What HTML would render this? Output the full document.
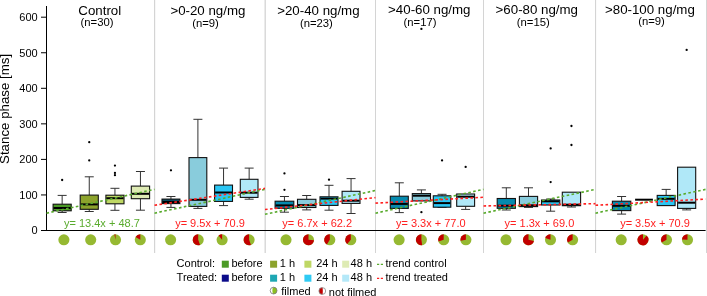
<!DOCTYPE html>
<html><head><meta charset="utf-8"><style>
html,body{margin:0;padding:0;background:#fff;}
svg{display:block;will-change:transform;}
text{font-family:"Liberation Sans", sans-serif;}
</style></head><body>
<svg width="707" height="296" viewBox="0 0 707 296" font-family='"Liberation Sans", sans-serif'>
<rect x="0" y="0" width="707" height="296" fill="#fff"/>
<line x1="154.6" y1="0" x2="154.6" y2="253" stroke="#d4d4d4" stroke-width="1.2"/>
<line x1="265.2" y1="0" x2="265.2" y2="253" stroke="#d4d4d4" stroke-width="1.3"/>
<line x1="375.5" y1="0" x2="375.5" y2="253" stroke="#d4d4d4" stroke-width="1.0"/>
<line x1="483.5" y1="0" x2="483.5" y2="253" stroke="#d4d4d4" stroke-width="1.0"/>
<line x1="595.55" y1="0" x2="595.55" y2="253" stroke="#d4d4d4" stroke-width="1.1"/>
<line x1="706.5" y1="0" x2="706.5" y2="253" stroke="#d4d4d4" stroke-width="1.0"/>
<line x1="46.5" y1="6" x2="46.5" y2="231" stroke="#000" stroke-width="1"/>
<line x1="41" y1="230.5" x2="705.6" y2="230.5" stroke="#000" stroke-width="1.2"/>
<line x1="41" y1="230.5" x2="46.5" y2="230.5" stroke="#000" stroke-width="1"/>
<text x="37.7" y="234.3" font-size="11" text-anchor="end">0</text>
<line x1="41" y1="194.95" x2="46.5" y2="194.95" stroke="#000" stroke-width="1"/>
<text x="37.7" y="198.75" font-size="11" text-anchor="end">100</text>
<line x1="41" y1="159.4" x2="46.5" y2="159.4" stroke="#000" stroke-width="1"/>
<text x="37.7" y="163.2" font-size="11" text-anchor="end">200</text>
<line x1="41" y1="123.85" x2="46.5" y2="123.85" stroke="#000" stroke-width="1"/>
<text x="37.7" y="127.65" font-size="11" text-anchor="end">300</text>
<line x1="41" y1="88.3" x2="46.5" y2="88.3" stroke="#000" stroke-width="1"/>
<text x="37.7" y="92.1" font-size="11" text-anchor="end">400</text>
<line x1="41" y1="52.75" x2="46.5" y2="52.75" stroke="#000" stroke-width="1"/>
<text x="37.7" y="56.55" font-size="11" text-anchor="end">500</text>
<line x1="41" y1="17.2" x2="46.5" y2="17.2" stroke="#000" stroke-width="1"/>
<text x="37.7" y="21" font-size="11" text-anchor="end">600</text>
<text transform="translate(9.2,108.9) rotate(-90)" font-size="13.3" text-anchor="middle">Stance phase [ms]</text>
<line x1="62.15" y1="195.4" x2="62.15" y2="204.2" stroke="#333" stroke-width="1"/>
<line x1="57.65" y1="195.4" x2="66.65" y2="195.4" stroke="#333" stroke-width="1"/>
<line x1="62.15" y1="210.8" x2="62.15" y2="212.5" stroke="#333" stroke-width="1"/>
<line x1="57.65" y1="212.5" x2="66.65" y2="212.5" stroke="#333" stroke-width="1"/>
<rect x="53.1" y="204.2" width="18.1" height="6.6" fill="#4b9a26" stroke="#111" stroke-width="1.1"/>
<line x1="53.6" y1="208" x2="70.7" y2="208" stroke="#000" stroke-width="2"/>
<circle cx="62.15" cy="180" r="1.15" fill="#000"/>
<line x1="89.25" y1="176.8" x2="89.25" y2="195.1" stroke="#333" stroke-width="1"/>
<line x1="84.75" y1="176.8" x2="93.75" y2="176.8" stroke="#333" stroke-width="1"/>
<line x1="89.25" y1="209.3" x2="89.25" y2="211.5" stroke="#333" stroke-width="1"/>
<line x1="84.75" y1="211.5" x2="93.75" y2="211.5" stroke="#333" stroke-width="1"/>
<rect x="80.2" y="195.1" width="18.1" height="14.2" fill="#8ca32c" stroke="#111" stroke-width="1.1"/>
<line x1="80.7" y1="204.4" x2="97.8" y2="204.4" stroke="#000" stroke-width="2"/>
<circle cx="89.25" cy="142.2" r="1.15" fill="#000"/>
<circle cx="89.25" cy="160.4" r="1.15" fill="#000"/>
<line x1="114.95" y1="188.3" x2="114.95" y2="195.2" stroke="#333" stroke-width="1"/>
<line x1="110.45" y1="188.3" x2="119.45" y2="188.3" stroke="#333" stroke-width="1"/>
<line x1="114.95" y1="203.8" x2="114.95" y2="210.3" stroke="#333" stroke-width="1"/>
<line x1="110.45" y1="210.3" x2="119.45" y2="210.3" stroke="#333" stroke-width="1"/>
<rect x="105.9" y="195.2" width="18.1" height="8.6" fill="#bed764" stroke="#111" stroke-width="1.1"/>
<line x1="106.4" y1="198.2" x2="123.5" y2="198.2" stroke="#000" stroke-width="2"/>
<circle cx="114.95" cy="165.6" r="1.15" fill="#000"/>
<circle cx="114.95" cy="172.9" r="1.15" fill="#000"/>
<circle cx="114.95" cy="175.2" r="1.15" fill="#000"/>
<line x1="140.45" y1="171.5" x2="140.45" y2="186.1" stroke="#333" stroke-width="1"/>
<line x1="135.95" y1="171.5" x2="144.95" y2="171.5" stroke="#333" stroke-width="1"/>
<line x1="140.45" y1="198.7" x2="140.45" y2="210.2" stroke="#333" stroke-width="1"/>
<line x1="135.95" y1="210.2" x2="144.95" y2="210.2" stroke="#333" stroke-width="1"/>
<rect x="131.3" y="186.1" width="18.3" height="12.6" fill="#deebb4" stroke="#111" stroke-width="1.1"/>
<line x1="131.8" y1="193.8" x2="149.1" y2="193.8" stroke="#000" stroke-width="2"/>
<line x1="46.5" y1="213.19" x2="154.5" y2="189.37" stroke="#5aab2e" stroke-width="1.6" stroke-dasharray="2.6 2.4"/>
<text x="99.8" y="15" font-size="13.3" text-anchor="middle">Control</text>
<text x="97" y="26" font-size="11.3" text-anchor="middle">(n=30)</text>
<text x="101.9" y="227.2" font-size="11" text-anchor="middle" fill="#5aab2e">y= 13.4x + 48.7</text>
<circle cx="63.9" cy="239.8" r="5.55" fill="#96b932"/>
<circle cx="90.7" cy="239.8" r="5.55" fill="#96b932"/>
<circle cx="115.5" cy="239.8" r="5.55" fill="#96b932"/>
<path d="M115.5,239.8 L114.35,234.37 A5.55,5.55 0 0 1 115.5,234.25 Z" fill="#c20000"/>
<circle cx="140.3" cy="239.8" r="5.55" fill="#96b932"/>
<path d="M140.3,239.8 L135.49,237.03 A5.55,5.55 0 0 1 140.3,234.25 Z" fill="#c20000"/>
<line x1="170.95" y1="196.5" x2="170.95" y2="199.1" stroke="#333" stroke-width="1"/>
<line x1="166.45" y1="196.5" x2="175.45" y2="196.5" stroke="#333" stroke-width="1"/>
<line x1="170.95" y1="203.6" x2="170.95" y2="207.4" stroke="#333" stroke-width="1"/>
<line x1="166.45" y1="207.4" x2="175.45" y2="207.4" stroke="#333" stroke-width="1"/>
<rect x="162" y="199.1" width="17.9" height="4.5" fill="#0a4a60" stroke="#111" stroke-width="1.1"/>
<line x1="162.5" y1="202" x2="179.4" y2="202" stroke="#000" stroke-width="2"/>
<circle cx="170.95" cy="170.3" r="1.15" fill="#000"/>
<line x1="197.9" y1="119.3" x2="197.9" y2="157.6" stroke="#333" stroke-width="1"/>
<line x1="193.4" y1="119.3" x2="202.4" y2="119.3" stroke="#333" stroke-width="1"/>
<line x1="197.9" y1="206.4" x2="197.9" y2="208.4" stroke="#333" stroke-width="1"/>
<line x1="193.4" y1="208.4" x2="202.4" y2="208.4" stroke="#333" stroke-width="1"/>
<rect x="189" y="157.6" width="17.8" height="48.8" fill="#89ccdc" stroke="#111" stroke-width="1.1"/>
<line x1="189.5" y1="199.8" x2="206.3" y2="199.8" stroke="#000" stroke-width="2"/>
<line x1="223.55" y1="168.1" x2="223.55" y2="185.1" stroke="#333" stroke-width="1"/>
<line x1="219.05" y1="168.1" x2="228.05" y2="168.1" stroke="#333" stroke-width="1"/>
<line x1="223.55" y1="201.4" x2="223.55" y2="205.6" stroke="#333" stroke-width="1"/>
<line x1="219.05" y1="205.6" x2="228.05" y2="205.6" stroke="#333" stroke-width="1"/>
<rect x="214.6" y="185.1" width="17.9" height="16.3" fill="#2ac6f4" stroke="#111" stroke-width="1.1"/>
<line x1="215.1" y1="192.5" x2="232" y2="192.5" stroke="#000" stroke-width="2"/>
<line x1="249.15" y1="168.1" x2="249.15" y2="179.3" stroke="#333" stroke-width="1"/>
<line x1="244.65" y1="168.1" x2="253.65" y2="168.1" stroke="#333" stroke-width="1"/>
<line x1="249.15" y1="197.4" x2="249.15" y2="199.2" stroke="#333" stroke-width="1"/>
<line x1="244.65" y1="199.2" x2="253.65" y2="199.2" stroke="#333" stroke-width="1"/>
<rect x="240.3" y="179.3" width="17.7" height="18.1" fill="#b0e8f8" stroke="#111" stroke-width="1.1"/>
<line x1="240.8" y1="192.7" x2="257.5" y2="192.7" stroke="#000" stroke-width="2"/>
<line x1="154.5" y1="213.19" x2="265" y2="189.37" stroke="#5aab2e" stroke-width="1.6" stroke-dasharray="2.6 2.4"/>
<line x1="154.5" y1="205.3" x2="265" y2="188.41" stroke="#ff2020" stroke-width="1.6" stroke-dasharray="2.6 2.4"/>
<text x="207.9" y="15" font-size="13.3" text-anchor="middle">&gt;0-20 ng/mg</text>
<text x="205.5" y="27" font-size="11.3" text-anchor="middle">(n=9)</text>
<text x="210" y="227.2" font-size="11" text-anchor="middle" fill="#ff2020">y= 9.5x + 70.9</text>
<circle cx="170.6" cy="239.8" r="5.55" fill="#96b932"/>
<circle cx="198.2" cy="239.8" r="5.55" fill="#96b932"/>
<path d="M198.2,239.8 L200.1,245.02 A5.55,5.55 0 1 1 198.2,234.25 Z" fill="#c20000"/>
<circle cx="222.1" cy="239.8" r="5.55" fill="#96b932"/>
<path d="M222.1,239.8 L218.53,235.55 A5.55,5.55 0 0 1 222.1,234.25 Z" fill="#c20000"/>
<circle cx="249.1" cy="239.8" r="5.55" fill="#96b932"/>
<path d="M249.1,239.8 L251,245.02 A5.55,5.55 0 1 1 249.1,234.25 Z" fill="#c20000"/>
<line x1="284.45" y1="196.5" x2="284.45" y2="201.2" stroke="#333" stroke-width="1"/>
<line x1="279.95" y1="196.5" x2="288.95" y2="196.5" stroke="#333" stroke-width="1"/>
<line x1="284.45" y1="208.3" x2="284.45" y2="212.2" stroke="#333" stroke-width="1"/>
<line x1="279.95" y1="212.2" x2="288.95" y2="212.2" stroke="#333" stroke-width="1"/>
<rect x="275.1" y="201.2" width="18.7" height="7.1" fill="#068aae" stroke="#111" stroke-width="1.1"/>
<line x1="275.6" y1="205.4" x2="293.3" y2="205.4" stroke="#000" stroke-width="2"/>
<circle cx="284.45" cy="173.4" r="1.15" fill="#000"/>
<circle cx="284.45" cy="189.8" r="1.15" fill="#000"/>
<line x1="306.7" y1="195.5" x2="306.7" y2="199.3" stroke="#333" stroke-width="1"/>
<line x1="302.2" y1="195.5" x2="311.2" y2="195.5" stroke="#333" stroke-width="1"/>
<line x1="306.7" y1="207.5" x2="306.7" y2="209.9" stroke="#333" stroke-width="1"/>
<line x1="302.2" y1="209.9" x2="311.2" y2="209.9" stroke="#333" stroke-width="1"/>
<rect x="297.5" y="199.3" width="18.4" height="8.2" fill="#89ccdc" stroke="#111" stroke-width="1.1"/>
<line x1="298" y1="205.1" x2="315.4" y2="205.1" stroke="#000" stroke-width="2"/>
<line x1="329" y1="185.3" x2="329" y2="196.8" stroke="#333" stroke-width="1"/>
<line x1="324.5" y1="185.3" x2="333.5" y2="185.3" stroke="#333" stroke-width="1"/>
<line x1="329" y1="205.4" x2="329" y2="210.2" stroke="#333" stroke-width="1"/>
<line x1="324.5" y1="210.2" x2="333.5" y2="210.2" stroke="#333" stroke-width="1"/>
<rect x="320" y="196.8" width="18" height="8.6" fill="#2ac6f4" stroke="#111" stroke-width="1.1"/>
<line x1="320.5" y1="198.6" x2="337.5" y2="198.6" stroke="#000" stroke-width="2"/>
<circle cx="329" cy="179.7" r="1.15" fill="#000"/>
<line x1="351.05" y1="178.6" x2="351.05" y2="191.3" stroke="#333" stroke-width="1"/>
<line x1="346.55" y1="178.6" x2="355.55" y2="178.6" stroke="#333" stroke-width="1"/>
<line x1="351.05" y1="203.4" x2="351.05" y2="213.5" stroke="#333" stroke-width="1"/>
<line x1="346.55" y1="213.5" x2="355.55" y2="213.5" stroke="#333" stroke-width="1"/>
<rect x="342.1" y="191.3" width="17.9" height="12.1" fill="#b0e8f8" stroke="#111" stroke-width="1.1"/>
<line x1="342.6" y1="200.7" x2="359.5" y2="200.7" stroke="#000" stroke-width="2"/>
<line x1="265" y1="214.29" x2="375.5" y2="190.47" stroke="#5aab2e" stroke-width="1.6" stroke-dasharray="2.6 2.4"/>
<line x1="265" y1="209.49" x2="375.5" y2="197.58" stroke="#ff2020" stroke-width="1.6" stroke-dasharray="2.6 2.4"/>
<text x="318.4" y="15" font-size="13.3" text-anchor="middle">&gt;20-40 ng/mg</text>
<text x="316.4" y="27" font-size="11.3" text-anchor="middle">(n=23)</text>
<text x="317.2" y="227.2" font-size="11" text-anchor="middle" fill="#ff2020">y= 6.7x + 62.2</text>
<circle cx="286" cy="239.8" r="5.55" fill="#96b932"/>
<circle cx="308.5" cy="239.8" r="5.55" fill="#96b932"/>
<path d="M308.5,239.8 L314.03,240.28 A5.55,5.55 0 1 1 308.5,234.25 Z" fill="#c20000"/>
<circle cx="329.8" cy="239.8" r="5.55" fill="#96b932"/>
<path d="M329.8,239.8 L326.86,244.51 A5.55,5.55 0 0 1 329.8,234.25 Z" fill="#c20000"/>
<circle cx="350.8" cy="239.8" r="5.55" fill="#96b932"/>
<path d="M350.8,239.8 L347.23,244.05 A5.55,5.55 0 0 1 350.8,234.25 Z" fill="#c20000"/>
<line x1="399.3" y1="182.8" x2="399.3" y2="196.2" stroke="#333" stroke-width="1"/>
<line x1="394.8" y1="182.8" x2="403.8" y2="182.8" stroke="#333" stroke-width="1"/>
<line x1="399.3" y1="208.4" x2="399.3" y2="212.6" stroke="#333" stroke-width="1"/>
<line x1="394.8" y1="212.6" x2="403.8" y2="212.6" stroke="#333" stroke-width="1"/>
<rect x="390.3" y="196.2" width="18" height="12.2" fill="#068aae" stroke="#111" stroke-width="1.1"/>
<line x1="390.8" y1="203.9" x2="407.8" y2="203.9" stroke="#000" stroke-width="2"/>
<line x1="421.4" y1="189.9" x2="421.4" y2="193.6" stroke="#333" stroke-width="1"/>
<line x1="416.9" y1="189.9" x2="425.9" y2="189.9" stroke="#333" stroke-width="1"/>
<rect x="412.3" y="193.6" width="18.2" height="7.3" fill="#89ccdc" stroke="#111" stroke-width="1.1"/>
<line x1="412.8" y1="195.7" x2="430" y2="195.7" stroke="#000" stroke-width="2"/>
<circle cx="421.4" cy="28.9" r="1.15" fill="#000"/>
<circle cx="421.4" cy="212.2" r="1.15" fill="#000"/>
<line x1="442.05" y1="194.3" x2="442.05" y2="195.8" stroke="#333" stroke-width="1"/>
<line x1="437.55" y1="194.3" x2="446.55" y2="194.3" stroke="#333" stroke-width="1"/>
<line x1="442.05" y1="207.2" x2="442.05" y2="207.4" stroke="#333" stroke-width="1"/>
<line x1="437.55" y1="207.4" x2="446.55" y2="207.4" stroke="#333" stroke-width="1"/>
<rect x="433.3" y="195.8" width="17.5" height="11.4" fill="#2ac6f4" stroke="#111" stroke-width="1.1"/>
<line x1="433.8" y1="203.1" x2="450.3" y2="203.1" stroke="#000" stroke-width="2"/>
<circle cx="442.05" cy="160.4" r="1.15" fill="#000"/>
<line x1="465.65" y1="206.3" x2="465.65" y2="209.4" stroke="#333" stroke-width="1"/>
<line x1="461.15" y1="209.4" x2="470.15" y2="209.4" stroke="#333" stroke-width="1"/>
<rect x="456.7" y="194" width="17.9" height="12.3" fill="#b0e8f8" stroke="#111" stroke-width="1.1"/>
<line x1="457.2" y1="196.7" x2="474.1" y2="196.7" stroke="#000" stroke-width="2"/>
<circle cx="465.65" cy="166.9" r="1.15" fill="#000"/>
<line x1="375.5" y1="213.19" x2="483.5" y2="189.37" stroke="#5aab2e" stroke-width="1.6" stroke-dasharray="2.6 2.4"/>
<line x1="375.5" y1="203.13" x2="483.5" y2="197.26" stroke="#ff2020" stroke-width="1.6" stroke-dasharray="2.6 2.4"/>
<text x="429.3" y="14" font-size="13.3" text-anchor="middle">&gt;40-60 ng/mg</text>
<text x="420" y="26" font-size="11.3" text-anchor="middle">(n=17)</text>
<text x="430.8" y="227.2" font-size="11" text-anchor="middle" fill="#ff2020">y= 3.3x + 77.0</text>
<circle cx="399.1" cy="239.8" r="5.55" fill="#96b932"/>
<circle cx="421.4" cy="239.8" r="5.55" fill="#96b932"/>
<path d="M421.4,239.8 L422.17,245.3 A5.55,5.55 0 1 1 421.4,234.25 Z" fill="#c20000"/>
<circle cx="443.7" cy="239.8" r="5.55" fill="#96b932"/>
<path d="M443.7,239.8 L438.42,241.52 A5.55,5.55 0 0 1 443.7,234.25 Z" fill="#c20000"/>
<circle cx="465.9" cy="239.8" r="5.55" fill="#96b932"/>
<path d="M465.9,239.8 L460.43,240.76 A5.55,5.55 0 0 1 465.9,234.25 Z" fill="#c20000"/>
<line x1="506.3" y1="187.8" x2="506.3" y2="198.5" stroke="#333" stroke-width="1"/>
<line x1="501.8" y1="187.8" x2="510.8" y2="187.8" stroke="#333" stroke-width="1"/>
<line x1="506.3" y1="208.3" x2="506.3" y2="210" stroke="#333" stroke-width="1"/>
<line x1="501.8" y1="210" x2="510.8" y2="210" stroke="#333" stroke-width="1"/>
<rect x="497.2" y="198.5" width="18.2" height="9.8" fill="#068aae" stroke="#111" stroke-width="1.1"/>
<line x1="497.7" y1="205.7" x2="514.9" y2="205.7" stroke="#000" stroke-width="2"/>
<line x1="528.5" y1="187.8" x2="528.5" y2="196.4" stroke="#333" stroke-width="1"/>
<line x1="524" y1="187.8" x2="533" y2="187.8" stroke="#333" stroke-width="1"/>
<line x1="528.5" y1="206.6" x2="528.5" y2="207.4" stroke="#333" stroke-width="1"/>
<line x1="524" y1="207.4" x2="533" y2="207.4" stroke="#333" stroke-width="1"/>
<rect x="519.4" y="196.4" width="18.2" height="10.2" fill="#89ccdc" stroke="#111" stroke-width="1.1"/>
<line x1="519.9" y1="205.3" x2="537.1" y2="205.3" stroke="#000" stroke-width="2"/>
<line x1="550.65" y1="199" x2="550.65" y2="200" stroke="#333" stroke-width="1"/>
<line x1="546.15" y1="199" x2="555.15" y2="199" stroke="#333" stroke-width="1"/>
<line x1="550.65" y1="205" x2="550.65" y2="211.2" stroke="#333" stroke-width="1"/>
<line x1="546.15" y1="211.2" x2="555.15" y2="211.2" stroke="#333" stroke-width="1"/>
<rect x="541.5" y="200" width="18.3" height="5" fill="#2ac6f4" stroke="#111" stroke-width="1.1"/>
<line x1="542" y1="201.3" x2="559.3" y2="201.3" stroke="#000" stroke-width="2"/>
<circle cx="550.65" cy="148.4" r="1.15" fill="#000"/>
<circle cx="550.65" cy="182.1" r="1.15" fill="#000"/>
<line x1="571.45" y1="205.7" x2="571.45" y2="207" stroke="#333" stroke-width="1"/>
<line x1="566.95" y1="207" x2="575.95" y2="207" stroke="#333" stroke-width="1"/>
<rect x="562.3" y="192.2" width="18.3" height="13.5" fill="#b0e8f8" stroke="#111" stroke-width="1.1"/>
<line x1="562.8" y1="204.7" x2="580.1" y2="204.7" stroke="#000" stroke-width="2"/>
<circle cx="571.45" cy="126" r="1.15" fill="#000"/>
<circle cx="571.45" cy="145" r="1.15" fill="#000"/>
<line x1="483.5" y1="213.19" x2="595.5" y2="189.37" stroke="#5aab2e" stroke-width="1.6" stroke-dasharray="2.6 2.4"/>
<line x1="483.5" y1="205.97" x2="595.5" y2="203.66" stroke="#ff2020" stroke-width="1.6" stroke-dasharray="2.6 2.4"/>
<text x="536.8" y="14" font-size="13.3" text-anchor="middle">&gt;60-80 ng/mg</text>
<text x="533.3" y="26" font-size="11.3" text-anchor="middle">(n=15)</text>
<text x="539.4" y="227.2" font-size="11" text-anchor="middle" fill="#ff2020">y= 1.3x + 69.0</text>
<circle cx="506" cy="239.8" r="5.55" fill="#96b932"/>
<circle cx="528.5" cy="239.8" r="5.55" fill="#96b932"/>
<path d="M528.5,239.8 L533.93,240.95 A5.55,5.55 0 1 1 528.5,234.25 Z" fill="#c20000"/>
<circle cx="550.5" cy="239.8" r="5.55" fill="#96b932"/>
<path d="M550.5,239.8 L545.28,237.9 A5.55,5.55 0 0 1 550.5,234.25 Z" fill="#c20000"/>
<circle cx="572.6" cy="239.8" r="5.55" fill="#96b932"/>
<path d="M572.6,239.8 L567.79,242.58 A5.55,5.55 0 0 1 572.6,234.25 Z" fill="#c20000"/>
<line x1="621.6" y1="196.5" x2="621.6" y2="201.2" stroke="#333" stroke-width="1"/>
<line x1="617.1" y1="196.5" x2="626.1" y2="196.5" stroke="#333" stroke-width="1"/>
<line x1="621.6" y1="210.6" x2="621.6" y2="214.1" stroke="#333" stroke-width="1"/>
<line x1="617.1" y1="214.1" x2="626.1" y2="214.1" stroke="#333" stroke-width="1"/>
<rect x="612.4" y="201.2" width="18.4" height="9.4" fill="#068aae" stroke="#111" stroke-width="1.1"/>
<line x1="612.9" y1="205.8" x2="630.3" y2="205.8" stroke="#000" stroke-width="2"/>
<line x1="635.1" y1="199.7" x2="652.9" y2="199.7" stroke="#000" stroke-width="2"/>
<line x1="666.15" y1="189.4" x2="666.15" y2="195.4" stroke="#333" stroke-width="1"/>
<line x1="661.65" y1="189.4" x2="670.65" y2="189.4" stroke="#333" stroke-width="1"/>
<rect x="657.2" y="195.4" width="17.9" height="10.2" fill="#2ac6f4" stroke="#111" stroke-width="1.1"/>
<line x1="657.7" y1="198.8" x2="674.6" y2="198.8" stroke="#000" stroke-width="2"/>
<line x1="686.65" y1="208.4" x2="686.65" y2="209.9" stroke="#333" stroke-width="1"/>
<line x1="682.15" y1="209.9" x2="691.15" y2="209.9" stroke="#333" stroke-width="1"/>
<rect x="677.6" y="167.2" width="18.1" height="41.2" fill="#b0e8f8" stroke="#111" stroke-width="1.1"/>
<line x1="678.1" y1="202.7" x2="695.2" y2="202.7" stroke="#000" stroke-width="2"/>
<circle cx="686.65" cy="49.9" r="1.15" fill="#000"/>
<line x1="595.5" y1="213.19" x2="705.5" y2="189.37" stroke="#5aab2e" stroke-width="1.6" stroke-dasharray="2.6 2.4"/>
<line x1="595.5" y1="205.3" x2="705.5" y2="199.07" stroke="#ff2020" stroke-width="1.6" stroke-dasharray="2.6 2.4"/>
<text x="649.9" y="14" font-size="13.3" text-anchor="middle">&gt;80-100 ng/mg</text>
<text x="651.5" y="25" font-size="11.3" text-anchor="middle">(n=9)</text>
<text x="655" y="227.2" font-size="11" text-anchor="middle" fill="#ff2020">y= 3.5x + 70.9</text>
<circle cx="621.2" cy="239.8" r="5.55" fill="#96b932"/>
<circle cx="643" cy="239.8" r="5.55" fill="#96b932"/>
<path d="M643,239.8 L646.57,235.55 A5.55,5.55 0 1 1 643,234.25 Z" fill="#c20000"/>
<circle cx="666.5" cy="239.8" r="5.55" fill="#96b932"/>
<path d="M666.5,239.8 L661.69,242.58 A5.55,5.55 0 0 1 666.5,234.25 Z" fill="#c20000"/>
<circle cx="687.5" cy="239.8" r="5.55" fill="#96b932"/>
<path d="M687.5,239.8 L681.95,239.61 A5.55,5.55 0 0 1 687.5,234.25 Z" fill="#c20000"/>
<text x="176.6" y="267" font-size="11">Control:</text>
<rect x="221.8" y="260.7" width="7" height="7" fill="#4b9a26"/>
<text x="231.4" y="267" font-size="11">before</text>
<rect x="270.1" y="260.7" width="7" height="7" fill="#8ca32c"/>
<text x="279.8" y="267" font-size="11">1 h</text>
<rect x="304.4" y="260.7" width="7" height="7" fill="#bed764"/>
<text x="316.2" y="267" font-size="11">24 h</text>
<rect x="342.2" y="260.7" width="7" height="7" fill="#deebb4"/>
<text x="350.6" y="267" font-size="11">48 h</text>
<line x1="377" y1="264.4" x2="383.5" y2="264.4" stroke="#5aab2e" stroke-width="1.3" stroke-dasharray="2.2 1.6"/>
<text x="385.5" y="267" font-size="11">trend control</text>
<text x="176.6" y="281" font-size="11">Treated:</text>
<rect x="221.8" y="274.7" width="7" height="7" fill="#0b0b8a"/>
<text x="231.4" y="281" font-size="11">before</text>
<rect x="270.1" y="274.7" width="7" height="7" fill="#1ea7b3"/>
<text x="279.8" y="281" font-size="11">1 h</text>
<rect x="304.4" y="274.7" width="7" height="7" fill="#2fcaf3"/>
<text x="316.2" y="281" font-size="11">24 h</text>
<rect x="342.2" y="274.7" width="7" height="7" fill="#b4e8f8"/>
<text x="350.6" y="281" font-size="11">48 h</text>
<line x1="377" y1="278.4" x2="383.5" y2="278.4" stroke="#ff2020" stroke-width="1.3" stroke-dasharray="2.2 1.6"/>
<text x="385.5" y="281" font-size="11">trend treated</text>
<path d="M273.6,287.2 A3.4,3.4 0 0 1 273.6,294 A1.2,3.4 0 0 1 273.6,287.2 Z" fill="#8cbf22"/>
<circle cx="273.6" cy="290.6" r="3.4" fill="none" stroke="#777" stroke-width="0.8"/>
<text x="281.3" y="294.8" font-size="11">filmed</text>
<path d="M322.3,287.6 A3.4,3.4 0 0 0 322.3,294.4 A0.5,3.4 0 0 0 322.3,287.6 Z" fill="#c00000"/>
<circle cx="322.3" cy="291" r="3.4" fill="none" stroke="#888" stroke-width="0.8"/>
<text x="328.8" y="295.8" font-size="11">not filmed</text>
</svg>
</body></html>
